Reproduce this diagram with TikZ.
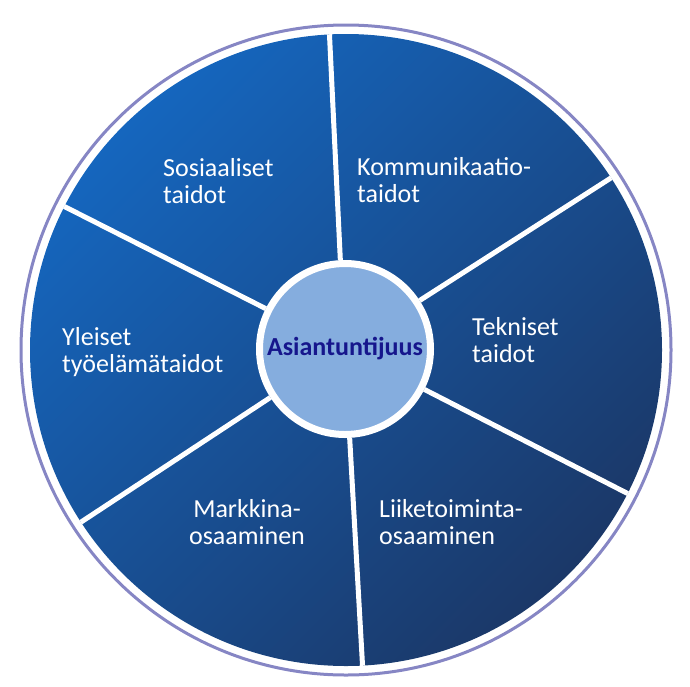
\documentclass[tikz,border=0pt]{standalone}
\usepackage{fontspec}
\setmainfont{Carlito}
\usepackage{tikz}
\usetikzlibrary{positioning}
\definecolor{rimblue}{RGB}{134,134,196}
\definecolor{lightblue}{RGB}{21,102,190}
\definecolor{darkblue}{RGB}{27,56,104}
\definecolor{hubblue}{RGB}{133,173,222}
\definecolor{navytext}{RGB}{22,22,140}
\tikzset{
    %Define style for the outer ring
    rim/.style={
           circle,
           draw=rimblue, line width=3pt,
           inner sep=0pt,
           minimum size=650pt},
    %Define style for the shaded disk
    wheel/.style={
           circle,
           inner sep=0pt,
           minimum size=632pt,
           top color=lightblue,
           bottom color=darkblue,
           shading angle=45},
    %Define style for the centre circle
    hub/.style={
           circle,
           draw=white, line width=7pt,
           fill=hubblue,
           inner sep=0pt,
           minimum size=171pt,
           font=\fontsize{26}{27}\selectfont\bfseries,
           text=navytext},
    %Define style for the sector texts (anchored on the last line)
    skill/.style={
           inner sep=0pt,
           anchor=base west,
           align=left,
           font=\fontsize{26}{27}\selectfont,
           text=white},
    % Define spoke style
    spoke/.style={
           draw=white,
           line width=5pt}
}
\begin{document}
\begin{tikzpicture}[x=1pt,y=-1pt]
\useasboundingbox (0,0) rectangle (690,686);
 %nodes
\node[rim](rim) at (346,350){};
\node[wheel](wheel) at (346,350){};
\node[hub](hub) at (345,349){Asiantuntijuus};
 %spokes
\foreach \a in {93,33,-27,-87,-147,153}
    \draw[spoke] (hub.\a) -- (wheel.\a);
 %texts
\node[skill](sos) at (163,203){Sosiaaliset\\taidot};
\node[skill](kom) at (357,202){Kommunikaatio-\\taidot};
\node[skill](tek) at (472,362){Tekniset\\taidot};
\node[skill](yle) at (62,372){Yleiset\\työelämätaidot};
\node[skill, anchor=base, align=center](mar) at (247,544){Markkina-\\osaaminen};
\node[skill](lii) at (379,544){Liiketoiminta-\\osaaminen};
\end{tikzpicture}
\end{document}
